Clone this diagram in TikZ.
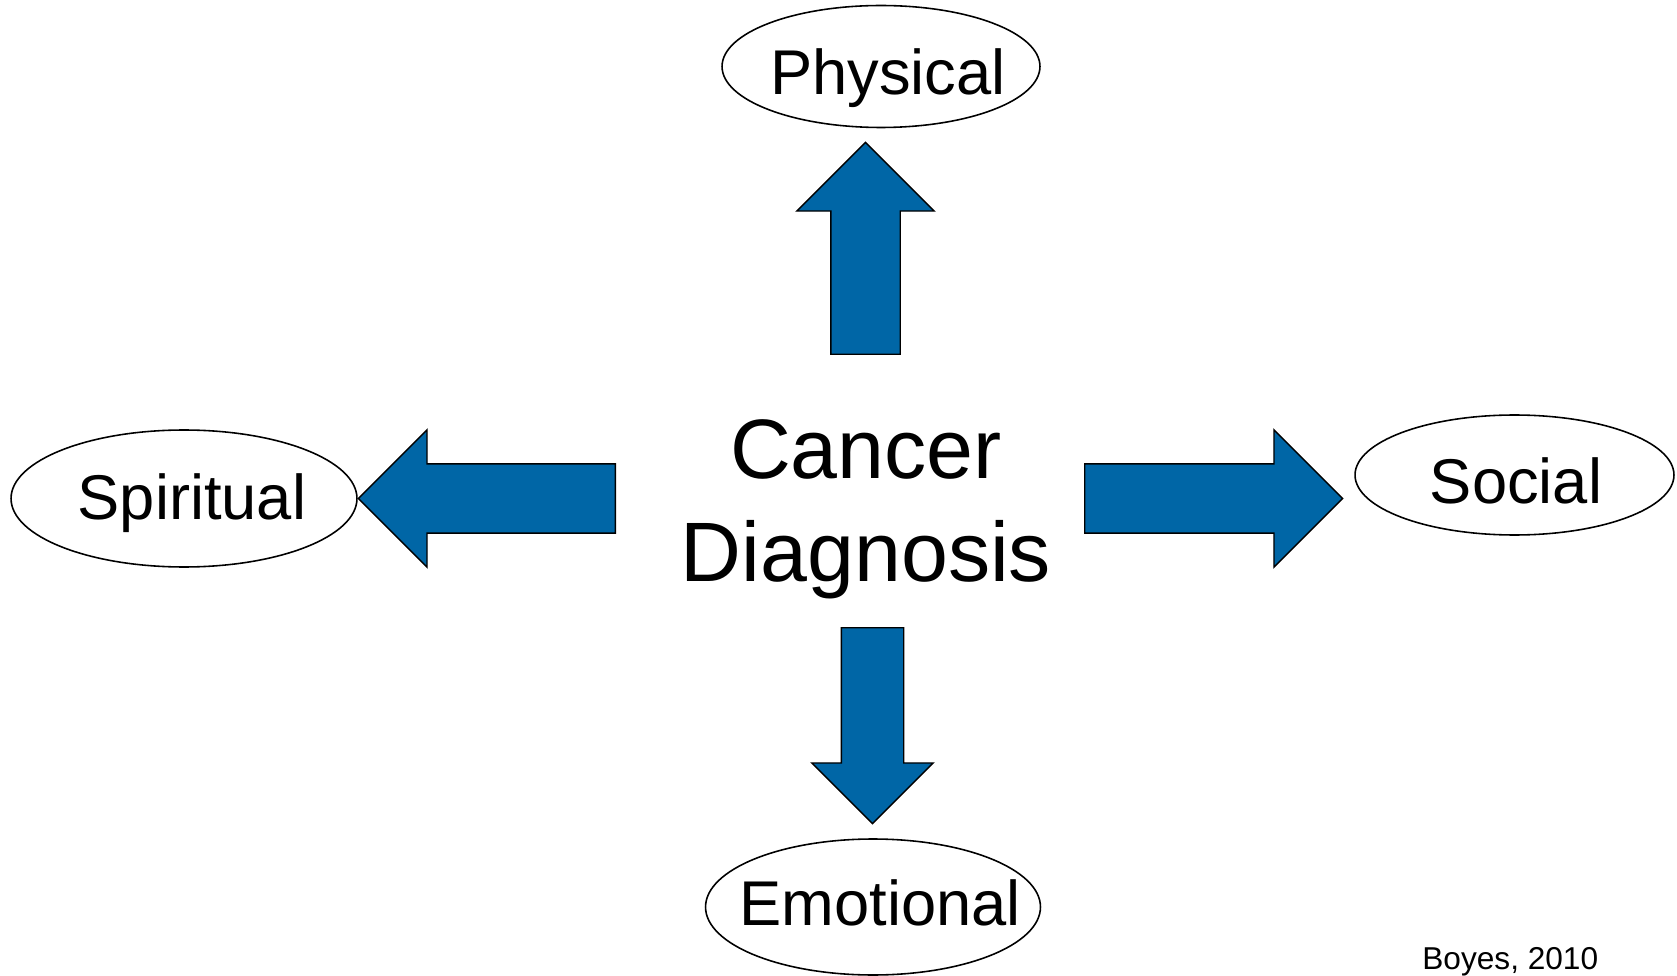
\documentclass[tikz,border=0pt]{standalone}
\usepackage{fontspec}
\setmainfont{Liberation Sans}
\usetikzlibrary{shapes.geometric,shapes.arrows}
\definecolor{arrblue}{RGB}{0,102,166}
\tikzset{
  oval/.style={ellipse,draw,line width=.9pt,inner sep=0pt},
  ovaltext/.style={font=\fontsize{36}{43}\selectfont,inner sep=0pt,anchor=base},
  centretext/.style={font=\fontsize{48}{58.6}\selectfont,align=center,inner sep=0pt},
  bigarr/.style={single arrow,draw,fill=arrblue,line width=.8pt,inner xsep=0pt,anchor=tail,single arrow tip angle=90},
  widearr/.style={bigarr,inner ysep=.68cm,single arrow head extend=.68cm},
  notetext/.style={font=\fontsize{18}{22}\selectfont,inner sep=0pt,anchor=base west}
}

\begin{document}
\begin{tikzpicture}[x=0.02cm,y=-0.02cm]
  \useasboundingbox (0,0) rectangle (1677,976);

  \node[centretext] (diag) at (866,509) {Cancer\\Diagnosis};

  \node[oval,minimum width=6.36cm,minimum height=2.44cm] (phys) at (881,66.5) {};
  \node[ovaltext] (physt) at (888,95) {Physical};
  \node[oval,minimum width=6.92cm,minimum height=2.74cm] (spir) at (184,498.5) {};
  \node[ovaltext] (spirt) at (192,519) {Spiritual};
  \node[oval,minimum width=6.38cm,minimum height=2.40cm] (soc) at (1514.5,475) {};
  \node[ovaltext] (soct) at (1516,503) {Social};
  \node[oval,minimum width=6.7cm,minimum height=2.72cm] (emo) at (873,907) {};
  \node[ovaltext] (emot) at (880,925) {Emotional};

  \node[widearr,minimum height=4.24cm,rotate=90] (aup) at (865.5,355) {};
  \node[widearr,minimum height=5.14cm,rotate=180] (aleft) at (616,498.5) {};
  \node[widearr,minimum height=5.16cm] (aright) at (1084,498.5) {};
  \node[bigarr,inner ysep=.61cm,single arrow head extend=.59cm,minimum height=3.92cm,rotate=-90] (adown) at (872.5,627) {};

  \node[notetext] (cite) at (1422,969) {Boyes, 2010};
\end{tikzpicture}
\end{document}
